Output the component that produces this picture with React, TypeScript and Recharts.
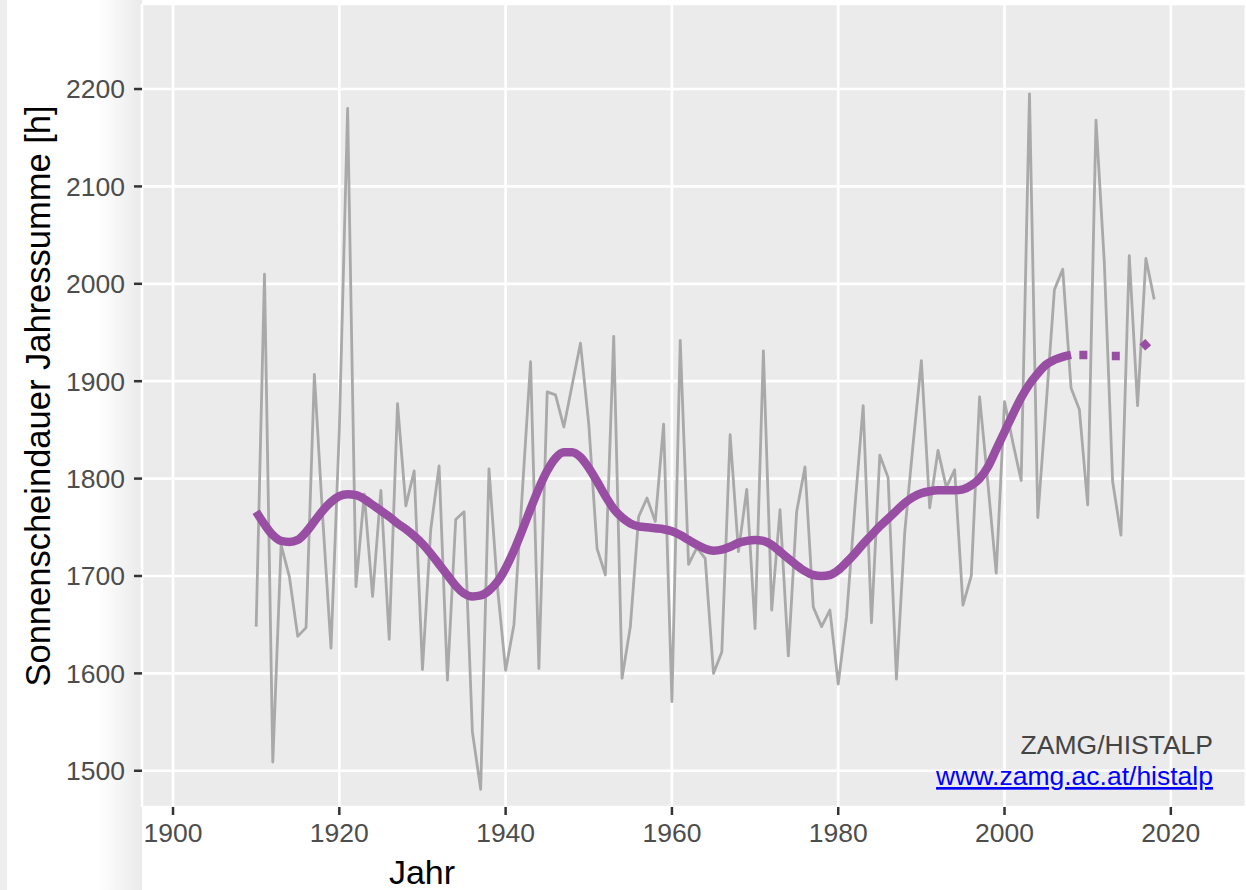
import { ComposedChart, Line, XAxis, YAxis, CartesianGrid } from "recharts";

// annual sunshine totals, one value per year from firstYear on
const firstYear = 1910;
const sunshineHours = [
  1648, 2010, 1509, 1732, 1699, 1638, 1647, 1907, 1760, 1626,
  1850, 2180, 1689, 1784, 1679, 1788, 1635, 1877, 1772, 1808,
  1604, 1748, 1813, 1593, 1758, 1766, 1540, 1481, 1810, 1690,
  1603, 1650, 1785, 1920, 1605, 1889, 1886, 1853, 1896, 1939,
  1856, 1728, 1701, 1946, 1595, 1648, 1761, 1780, 1756, 1856,
  1571, 1942, 1712, 1729, 1718, 1600, 1622, 1845, 1725, 1789,
  1646, 1931, 1665, 1768, 1618, 1766, 1812, 1668, 1648, 1665,
  1589, 1658, 1770, 1875, 1652, 1824, 1801, 1594, 1745, 1835,
  1921, 1770, 1829, 1791, 1809, 1670, 1700, 1884, 1795, 1703,
  1879, 1837, 1798, 2195, 1760, 1875, 1994, 2015, 1893, 1871,
  1773, 2168, 2022, 1797, 1742, 2029, 1875, 2026, 1984,
];

// smoothed curve, 1910-2008 (solid)
const smoothHours = [
  1766, 1753, 1742, 1736, 1735, 1737, 1745, 1756, 1767, 1776,
  1782, 1784, 1783, 1779, 1773, 1767, 1761, 1754, 1748, 1741,
  1733, 1723, 1712, 1701, 1690, 1682, 1679, 1680, 1685, 1694,
  1708, 1726, 1747, 1769, 1790, 1808, 1821, 1827, 1827, 1822,
  1811, 1797, 1782, 1769, 1760, 1754, 1751, 1750, 1749, 1748,
  1746, 1742, 1737, 1732, 1728, 1726, 1727, 1730, 1734, 1736,
  1737, 1736, 1732, 1725, 1718, 1711, 1705, 1701, 1700, 1701,
  1706, 1714, 1723, 1733, 1742, 1751, 1759, 1767, 1775, 1781,
  1785, 1787, 1788, 1788, 1788, 1789, 1793, 1800, 1812, 1830,
  1848, 1866, 1883, 1897, 1908, 1917, 1922, 1925, 1927,
];

// smoothed curve end, 2008-2018 (dotted)
const tailStart = 2008;
const smoothTailHours = [1927, 1927, 1927, 1926, 1926, 1926, 1926, 1928, 1931, 1938, 1946];

const xTicks = [1900, 1920, 1940, 1960, 1980, 2000, 2020];
const yTicks = [1500, 1600, 1700, 1800, 1900, 2000, 2100, 2200];

const data = sunshineHours.map((v, i) => {
  const year = firstYear + i;
  return {
    year,
    sunshine: v,
    smooth: i < smoothHours.length ? smoothHours[i] : null,
    tail: year >= tailStart ? smoothTailHours[year - tailStart] : null,
  };
});

const font = "'Liberation Sans', Arial, sans-serif";
const tickStyle = { fontSize: 26.5, fill: "#4D4D4D", fontFamily: font };

export default function App() {
  return (
    <div
      style={{
        position: "absolute",
        left: 0,
        top: 0,
        width: 1246,
        height: 890,
        background: "#FFFFFF",
        fontFamily: font,
        overflow: "hidden",
      }}
    >
      <div
        style={{
          position: "absolute",
          left: 0,
          top: 0,
          width: 142,
          height: 890,
          background:
            "linear-gradient(to right, #EEEEEE 0px, #EEEEEE 7px, #FFFFFF 7px, #FFFFFF 98px, #EAEAEA 142px)",
        }}
      />
      <div style={{ position: "absolute", left: 0, top: 0 }}>
        <ComposedChart
          width={1246}
          height={890}
          data={data}
          margin={{ top: 4, right: 0, bottom: 0, left: 0 }}
        >
          <CartesianGrid fill="#EBEBEB" stroke="#FFFFFF" strokeWidth={2.7} />
          <XAxis
            dataKey="year"
            type="number"
            domain={[1896.27, 2029.04]}
            allowDataOverflow
            ticks={xTicks}
            height={83}
            axisLine={false}
            tickLine={{ stroke: "#333333", strokeWidth: 2.5 }}
            tickSize={8}
            tickMargin={8}
            tick={tickStyle}
          />
          <YAxis
            type="number"
            domain={[1462.8, 2287.3]}
            allowDataOverflow
            ticks={yTicks}
            width={142}
            axisLine={false}
            tickLine={{ stroke: "#333333", strokeWidth: 2.5 }}
            tickSize={8}
            tickMargin={9}
            tick={tickStyle}
          />
          <Line
            type="linear"
            dataKey="sunshine"
            stroke="#A9A9A9"
            strokeWidth={2.8}
            strokeLinejoin="round"
            dot={false}
            isAnimationActive={false}
          />
          <Line
            type="monotone"
            dataKey="smooth"
            stroke="#984EA3"
            strokeWidth={8.5}
            dot={false}
            isAnimationActive={false}
          />
          <Line
            type="monotone"
            dataKey="tail"
            stroke="#984EA3"
            strokeWidth={8.5}
            strokeDasharray="8 24.5"
            strokeDashoffset={24.2}
            dot={false}
            isAnimationActive={false}
          />
        </ComposedChart>
      </div>
      <svg
        width={1246}
        height={890}
        style={{ position: "absolute", left: 0, top: 0, pointerEvents: "none" }}
      >
        <text
          x={50}
          y={396}
          transform="rotate(-90 50 396)"
          textAnchor="middle"
          fontSize={34.5}
          fill="#000000"
          fontFamily={font}
        >
          Sonnenscheindauer Jahressumme [h]
        </text>
        <text x={422} y={884} textAnchor="middle" fontSize={34} fill="#000000" fontFamily={font}>
          Jahr
        </text>
        <text x={1213} y={754} textAnchor="end" fontSize={26.5} fill="#444444" fontFamily={font}>
          ZAMG/HISTALP
        </text>
        <text
          x={1213}
          y={785}
          textAnchor="end"
          fontSize={26.5}
          fill="#0000FF"
          fontFamily={font}
          style={{ textDecoration: "underline" }}
        >
          www.zamg.ac.at/histalp
        </text>
      </svg>
    </div>
  );
}
